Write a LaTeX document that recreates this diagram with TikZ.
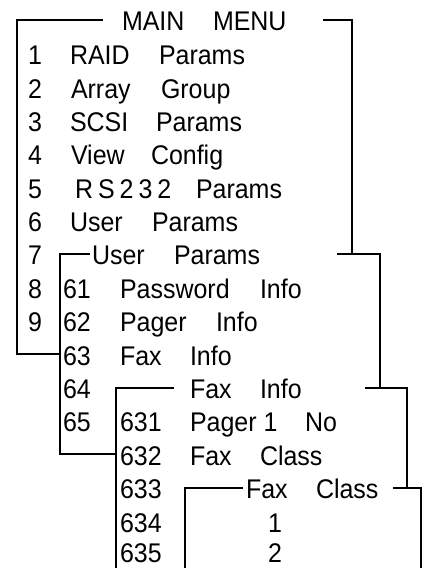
\documentclass[tikz,border=0pt]{standalone}
\usepackage{fontspec}
\setmainfont{Liberation Sans}[FakeStretch=0.925]
\begin{document}
\begin{tikzpicture}[x=1pt,y=-1pt,
  boxline/.style={line width=1.7pt,line join=miter,line cap=butt},
  txt/.style={anchor=base west,inner sep=0pt,outer sep=0pt,text depth=0pt,font=\fontsize{27}{30}\selectfont},
  ctxt/.style={anchor=base,inner sep=0pt,outer sep=0pt,text depth=0pt,font=\fontsize{27}{30}\selectfont}]
\useasboundingbox (0,0) rectangle (428,568);
% ---- box corners ----
\coordinate (b1tl) at (103,20);  \coordinate (b1c) at (17,20);  \coordinate (b1b) at (17,354);  \coordinate (b1e) at (60,354);
\coordinate (b1tr) at (323,20);  \coordinate (b1rc) at (352,20); \coordinate (b1re) at (352,254);
\coordinate (b2tl) at (90,254);  \coordinate (b2c) at (60,254);  \coordinate (b2b) at (60,454);  \coordinate (b2e) at (116,454);
\coordinate (b2tr) at (337,254); \coordinate (b2rc) at (380,254); \coordinate (b2re) at (380,388);
\coordinate (b3tl) at (174,388); \coordinate (b3c) at (116,388); \coordinate (b3b) at (116,568);
\coordinate (b3tr) at (365,388); \coordinate (b3rc) at (407,388); \coordinate (b3re) at (407,488);
\coordinate (b4tl) at (243,488); \coordinate (b4c) at (185,488); \coordinate (b4b) at (185,568);
\coordinate (b4tr) at (393,488); \coordinate (b4rc) at (421,488); \coordinate (b4re) at (421,568);
\draw[boxline] (b1tl) -- (b1c) -- (b1b) -- (b1e);
\draw[boxline] (b1tr) -- (b1rc) -- (b1re);
\draw[boxline] (b2tl) -- (b2c) -- (b2b) -- (b2e);
\draw[boxline] (b2tr) -- (b2rc) -- (b2re);
\draw[boxline] (b3tl) -- (b3c) -- (b3b);
\draw[boxline] (b3tr) -- (b3rc) -- (b3re);
\draw[boxline] (b4tl) -- (b4c) -- (b4b);
\draw[boxline] (b4tr) -- (b4rc) -- (b4re);
% ---- row 0: title ----
\node[txt] (t0a) at (122,30.5) {MAIN};
\node[txt] (t0b) at (213,30.5) {MENU};
% ---- main menu rows ----
\node[txt] (n1) at (28,64.8) {1};  \node[txt] (w1a) at (70,64.8) {RAID};  \node[txt] (w1b) at (159,64.8) {Params};
\node[txt] (n2) at (28,98) {2};  \node[txt] (w2a) at (71,98) {Array}; \node[txt] (w2b) at (161,98) {Group};
\node[txt] (n3) at (28,131.2) {3}; \node[txt] (w3a) at (70,131.2) {SCSI}; \node[txt] (w3b) at (156,131.2) {Params};
\node[txt] (n4) at (28,164.6) {4}; \node[txt] (w4a) at (71,164.6) {View}; \node[txt] (w4b) at (151,164.6) {Config};
\node[txt] (n5) at (28,198) {5};   \node[txt] (w5a) at (75,198) {R\kern5pt S\kern5pt 2\kern5pt 3\kern5pt 2}; \node[txt] (w5b) at (196,198) {Params};
\node[txt] (n6) at (28,231.4) {6}; \node[txt] (w6a) at (70,231.4) {User}; \node[txt] (w6b) at (152,231.4) {Params};
\node[txt] (n7) at (28,264.8) {7}; \node[txt] (w7a) at (92,264.8) {User}; \node[txt] (w7b) at (174,264.8) {Params};
\node[txt] (n8) at (28,298.2) {8}; \node[txt] (m8) at (63,298.2) {61}; \node[txt] (w8a) at (120,298.2) {Password}; \node[txt] (w8b) at (260,298.2) {Info};
\node[txt] (n9) at (28,331.6) {9}; \node[txt] (m9) at (63,331.6) {62}; \node[txt] (w9a) at (120,331.6) {Pager}; \node[txt] (w9b) at (216,331.6) {Info};
\node[txt] (m10) at (63,365) {63}; \node[txt] (w10a) at (120,365) {Fax}; \node[txt] (w10b) at (190,365) {Info};
\node[txt] (m11) at (63,398.4) {64}; \node[txt] (w11a) at (190,398.4) {Fax}; \node[txt] (w11b) at (260,398.4) {Info};
\node[txt] (m12) at (63,431.8) {65}; \node[txt] (f12) at (120,431.8) {631}; \node[txt] (w12a) at (190,431.8) {Pager 1}; \node[txt] (w12b) at (305,431.8) {No};
\node[txt] (f13) at (120,465.2) {632}; \node[txt] (w13a) at (190,465.2) {Fax}; \node[txt] (w13b) at (260,465.2) {Class};
\node[txt] (f14) at (120,498.6) {633}; \node[txt] (w14a) at (246,498.6) {Fax}; \node[txt] (w14b) at (316,498.6) {Class};
\node[txt] (f15) at (120,532) {634}; \node[ctxt] (c15) at (275,532) {1};
\node[txt] (f16) at (120,562) {635}; \node[ctxt] (c16) at (275,562) {2};
\end{tikzpicture}
\end{document}
